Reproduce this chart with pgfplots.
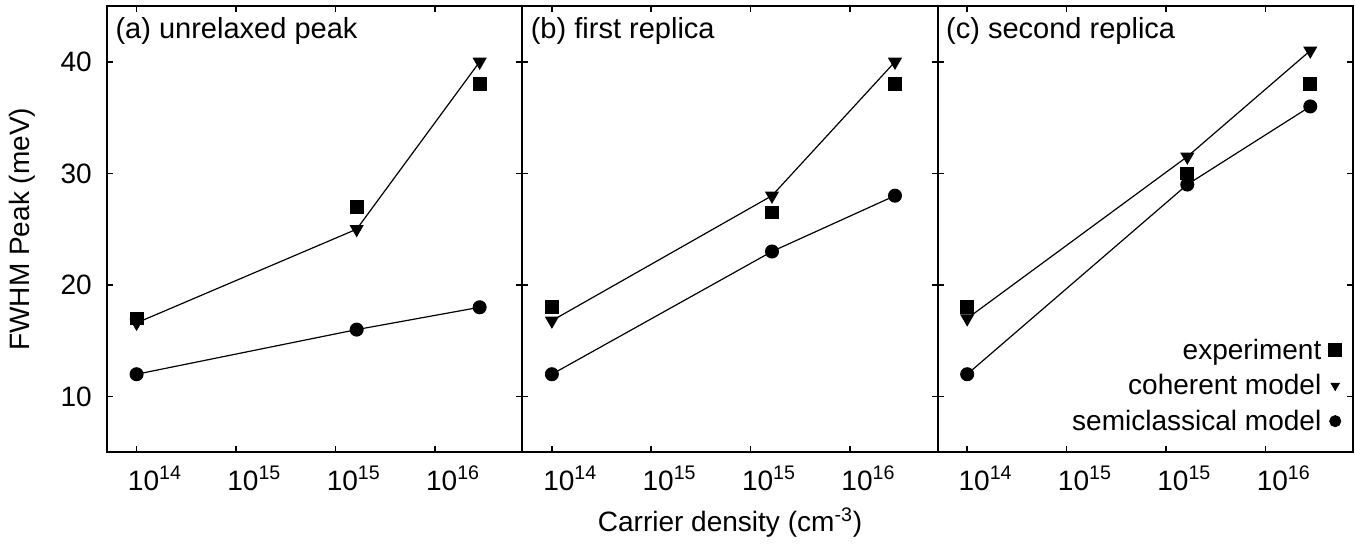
\documentclass[border=0pt]{standalone}
\usepackage{fontspec}
\setmainfont{Liberation Sans}
\usepackage{pgfplots}
\usepackage{pgfplotstable}
\pgfplotsset{compat=1.18}

% x: carrier density, y: FWHM (meV)
\pgfplotstableread{
x        exp   coh   semi
1e14     17    16.6  12
1.28e15  27    25    16
5.32e15  38    40    18
}\panela
\pgfplotstableread{
x        exp   coh   semi
1e14     18    16.8  12
1.28e15  26.5  28    23
5.32e15  38    40    28
}\panelb
\pgfplotstableread{
x        exp   coh   semi
1e14     18    17    12
1.28e15  30    31.5  29
5.32e15  38    41    36
}\panelc

\pgfplotsset{
  width=207.5pt, height=223pt, scale only axis,
  xmin=7.11e13, xmax=8.73e15,
  ymin=5, ymax=45,
  xtick={1e14,3.1623e14,1e15,3.1623e15},
  xticklabels={10\textsuperscript{14},10\textsuperscript{15},10\textsuperscript{15},10\textsuperscript{16}},
  xticklabel style={anchor=base west, inner sep=0pt, xshift=-4.5pt, yshift=-19pt},
  yticklabel style={anchor=east, inner sep=0pt, xshift=-7.5pt},
  minor xtick={},
  ytick={10,20,30,40},
  major tick length=3pt,
  tick style={line width=0.8pt, black},
  axis line style={line width=1pt},
  tick align=inside,
  xtick pos=both, ytick pos=both,
  /pgf/number format/assume math mode=true,
}
\tikzset{font=\fontsize{14}{16}\selectfont}

\begin{document}
\begin{tikzpicture}
\useasboundingbox (-53.5pt,-45.5pt) rectangle (623.5pt,226pt);

\begin{axis}[xmode=log, at={(0pt,0pt)}, anchor=south west,
    ylabel={FWHM Peak (meV)},
    ylabel style={at={(axis description cs:-0.204,0.5)}, anchor=center},
  ]
\addplot[only marks, mark=square*, mark size=3.2pt, black] table[x=x, y=exp] {\panela};
\addplot[line width=0.6pt, black, mark=triangle*, mark size=3.5pt, mark options={rotate=180}] table[x=x, y=coh] {\panela};
\addplot[line width=0.6pt, black, mark=*, mark size=3.2pt] table[x=x, y=semi] {\panela};
\node[anchor=base west, inner sep=0pt, font=\fontsize{14.5}{16}\selectfont] at (axis description cs:0,1) [xshift=4pt, yshift=-16pt] {(a) unrelaxed peak};
\end{axis}

\begin{axis}[xmode=log, at={(207.5pt,0pt)}, anchor=south west, yticklabels={},
    xlabel={Carrier density (cm\textsuperscript{-3})},
    xlabel style={at={(axis description cs:0.5,-0.157)}, anchor=center},
  ]
\addplot[only marks, mark=square*, mark size=3.2pt, black] table[x=x, y=exp] {\panelb};
\addplot[line width=0.6pt, black, mark=triangle*, mark size=3.5pt, mark options={rotate=180}] table[x=x, y=coh] {\panelb};
\addplot[line width=0.6pt, black, mark=*, mark size=3.2pt] table[x=x, y=semi] {\panelb};
\node[anchor=base west, inner sep=0pt, font=\fontsize{14.5}{16}\selectfont] at (axis description cs:0,1) [xshift=4pt, yshift=-16pt] {(b) first replica};
\end{axis}

\begin{axis}[xmode=log, at={(415pt,0pt)}, anchor=south west, yticklabels={},
    legend plot pos=right,
    legend cell align=right,
    legend image code/.code={\draw[#1] plot coordinates {(0pt,1.5pt)};},
    legend style={draw=none, fill=none, inner sep=0pt,
      at={(axis description cs:1,0)}, anchor=south east, xshift=-5.5pt, yshift=5pt,
      row sep=0pt, column sep=3.75pt,
      nodes={inner sep=0pt, text height=12pt, text depth=5.75pt}},
  ]
\addplot[only marks, mark=square*, mark size=3.2pt, black, forget plot] table[x=x, y=exp] {\panelc};
\addplot[line width=0.6pt, black, mark=triangle*, mark size=3.5pt, mark options={rotate=180}, forget plot] table[x=x, y=coh] {\panelc};
\addplot[line width=0.6pt, black, mark=*, mark size=3.2pt, forget plot] table[x=x, y=semi] {\panelc};
\addlegendimage{only marks, mark=square*, mark size=3.2pt, black}
\addlegendentry{experiment}
\addlegendimage{only marks, mark=triangle*, mark size=2.4pt, mark options={rotate=180}, black}
\addlegendentry{coherent model}
\addlegendimage{only marks, mark=*, mark size=2.8pt, black}
\addlegendentry{semiclassical model}
\node[anchor=base west, inner sep=0pt, font=\fontsize{14.5}{16}\selectfont] at (axis description cs:0,1) [xshift=4pt, yshift=-16pt] {(c) second replica};
\end{axis}
\end{tikzpicture}
\end{document}
